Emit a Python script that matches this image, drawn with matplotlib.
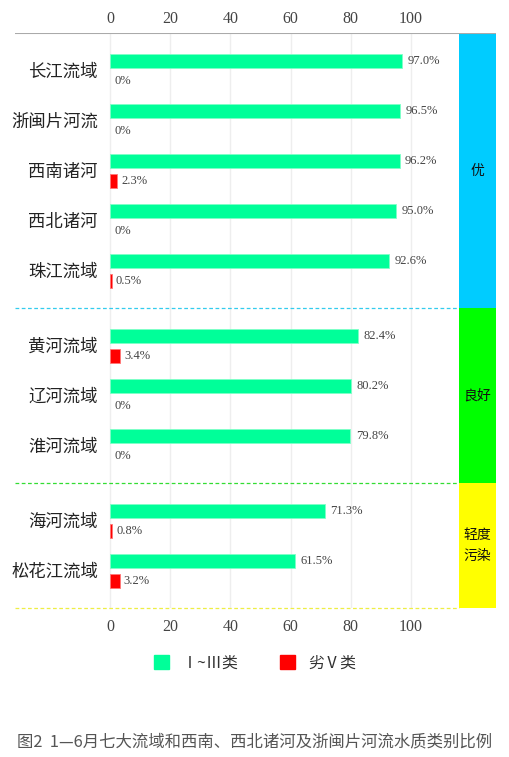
import matplotlib.pyplot as plt
from matplotlib.patches import Patch

plt.rcParams['font.family'] = ['Noto Sans CJK SC', 'DejaVu Sans']

# data
rivers = ['长江流域', '浙闽片河流', '西南诸河', '西北诸河', '珠江流域',
          '黄河流域', '辽河流域', '淮河流域',
          '海河流域', '松花江流域']
good = [97.0, 96.5, 96.2, 95.0, 92.6, 82.4, 80.2, 79.8, 71.3, 61.5]
bad = [0, 0, 2.3, 0, 0.5, 3.4, 0, 0, 0.8, 3.2]
groups = ['优', '良好', '轻度\n污染']
group_sizes = [5, 3, 2]
group_colors = ['#00CCFF', '#00FF00', '#FFFF00']
line_colors = ['#33CCEE', '#33DD33', '#EEEE44']
ticks = [0, 20, 40, 60, 80, 100]

GREEN = '#00FF99'
RED = '#FF0000'
num_font = 'Liberation Serif'

fig = plt.figure(figsize=(5.1, 7.57), dpi=100)
W, H = 510, 757
ax = fig.add_axes([15 / W, 1 - 608 / H, (496 - 15) / W, (608 - 33) / H])

x0, x100 = 110, 411
ppu = (x100 - x0) / 100
ax.set_xlim(-(x0 - 15) / ppu, (496 - x0) / ppu)
band_l = (459 - x0) / ppu
band_r = (496 - x0) / ppu

# row positions (unit = one river row)
ys = []
bounds = []
start = 0.0
for n in group_sizes:
    for i in range(n):
        ys.append(start + 0.56 + i)
    bounds.append((start, start + n + 0.5))
    start += n + 0.5
ax.set_ylim(start, 0)

bh = 0.29
off = 0.40
for y, g, b, name in zip(ys, good, bad, rivers):
    ax.barh(y, g, height=bh, color=GREEN, edgecolor='#7fffc8', linewidth=0.6, zorder=3)
    if b > 0:
        ax.barh(y + off, b, height=bh, color=RED, edgecolor='#ff7777', linewidth=0.6, zorder=3)
    ax.annotate(f'{g:.1f}%', (g, y), xytext=(4, 0), textcoords='offset points',
                va='center', ha='left', fontsize=9, color='#444444', family=num_font)
    ax.annotate('0%' if b == 0 else f'{b:.1f}%', (b, y + off), xytext=(3, 0),
                textcoords='offset points', va='center', ha='left', fontsize=9,
                color='#444444', family=num_font)
    ax.text(-4, y + 0.21, name, ha='right', va='center', fontsize=12.5,
            color='#222222', weight='medium')

# grid
for t in ticks:
    ax.axvline(t, color='#eeeeee', lw=1, zorder=0)

# category bands and separators
for (a, b), lab, c, lc in zip(bounds, groups, group_colors, line_colors):
    ax.axvspan(band_l, band_r, ymin=1 - b / start, ymax=1 - a / start, color=c, lw=0, zorder=2)
    ax.plot([ax.get_xlim()[0], band_l], [b, b], ls=(0, (3, 2)), color=lc, lw=0.9,
            zorder=2, clip_on=False)
    ax.text((band_l + band_r) / 2, (a + b) / 2, lab, ha='center', va='center',
            fontsize=10, color='#111111', linespacing=1.6)

ax.axhline(0, color='#aaaaaa', lw=1.5, zorder=4)

for s in ax.spines.values():
    s.set_visible(False)
ax.set_yticks([])
ax.set_xticks(ticks)
ax.tick_params(axis='x', length=0, pad=8, labelsize=11.5, labelcolor='#444444')
for lbl in ax.get_xticklabels():
    lbl.set_family(num_font)

top = ax.secondary_xaxis('top')
top.set_xticks(ticks)
top.spines['top'].set_visible(False)
top.tick_params(length=0, pad=4, labelsize=11.5, labelcolor='#444444')
for lbl in top.get_xticklabels():
    lbl.set_family(num_font)

handles = [Patch(color=GREEN, label='Ⅰ~Ⅲ类'), Patch(color=RED, label='劣Ⅴ类')]
fig.legend(handles=handles, loc='center', bbox_to_anchor=(255 / W, 1 - 663 / H), ncol=2,
           frameon=False, fontsize=11.5, handlelength=0.95, handleheight=1.0,
           handletextpad=0.8, columnspacing=2.6, labelcolor='#333333')

fig.text(17 / W, 1 - 742 / H, '图2  1—6月七大流域和西南、西北诸河及浙闽片河流水质类别比例',
         ha='left', va='center', fontsize=11.8, color='#555555')

fig.savefig('out.png', dpi=100)
